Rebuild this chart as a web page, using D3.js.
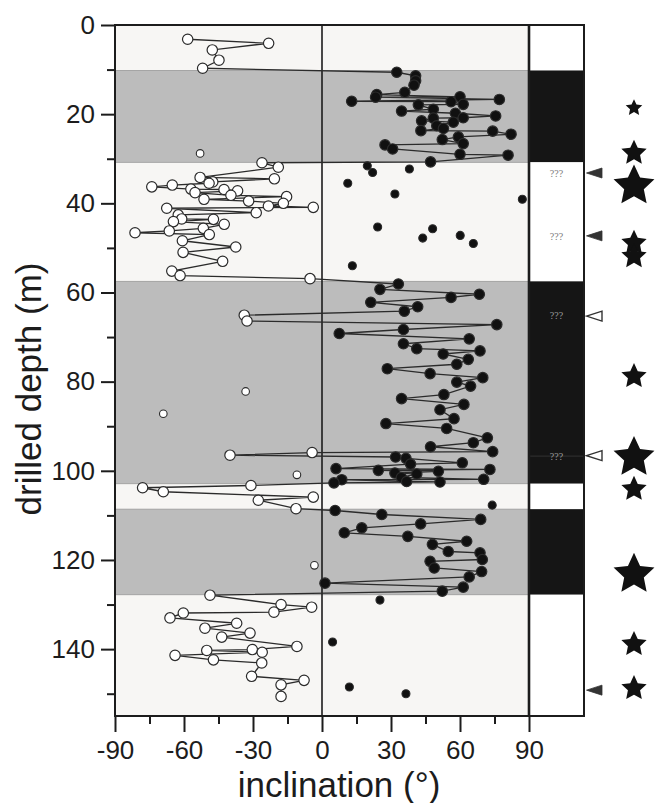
<!DOCTYPE html>
<html>
<head>
<meta charset="utf-8" />
<title>Inclination vs drilled depth</title>
<style>
    body { margin: 0; background: #fff; }
    svg text { font-family: 'Liberation Sans', Arial, sans-serif; fill: #1c1c1c; }
</style>
</head>
<body>
<div id="container"></div>
<script src="https://cdn.jsdelivr.net/npm/d3@7/dist/d3.min.js"></script>
<script>
    // [depth (m), inclination (deg)] - samples joined by the line, in depth order
    const linkedSamples = [
        [3.2, -58.4], [4.1, -23.2], [5.6, -47.7], [7.9, -44.8], [9.7, -51.9],
        [10.6, 32.5], [11.4, 40.7], [12.5, 40.7], [13.5, 40], [15.1, 36], [15.6, 23.8], [16.1, 60], [16.2, 23.3],
        [16.7, 77.1], [17.1, 12.9], [17.2, 56.1], [17.8, 61.4], [17.9, 41.9], [18.9, 48.4], [19.3, 34.6], [19.8, 58],
        [20.4, 75.5], [20.8, 61.4], [20.9, 48.4], [21.5, 43.3], [21.8, 57.1], [22.6, 49.9], [23.2, 52.8], [23.7, 43],
        [23.8, 74.2], [24.5, 82.2], [25.1, 59.3], [25.7, 52.3], [26.6, 61.4], [26.9, 27.4], [27.8, 30.7], [29.0, 60],
        [29.2, 80.9], [30.7, 47.2],
        [30.9, -26.1], [31.9, -19], [34.2, -53], [34.5, -20.7], [35.2, -47.5], [35.5, -49.1], [35.9, -65.1], [36.3, -74],
        [36.8, -57], [36.9, -42.6], [37.2, -36.7], [37.6, -55.2], [38.2, -39.6], [38.5, -15.4], [39.1, -51.3], [39.5, -31.9],
        [40.0, -16.8], [40.6, -23.3], [40.9, -3.8], [41.1, -67.5], [42.1, -28.6], [42.6, -62.5], [43.5, -61], [43.6, -47.2],
        [44.1, -64.6], [44.7, -42.5], [45.6, -51.6], [46.2, -66.4], [46.6, -81.3], [47.0, -49], [48.4, -60.7], [49.8, -37.5],
        [51.0, -60.4], [53.0, -43.2], [55.2, -65.3], [56.2, -61.7], [56.9, -5.2],
        [58.1, 33.2], [59.3, 25.2], [60.4, 68.4], [61.1, 56.1], [62.2, 21.2], [63.2, 41.6], [64.2, 35.8], [65.1, -33.8],
        [66.4, -32.6], [67.2, 76], [68.3, 35.4], [69.2, 7.5], [70.4, 64], [71.5, 35.4], [72.6, 41.2], [73.1, 68.7],
        [73.8, 52.7], [75.0, 63.6], [76.1, 58.6], [77.1, 28.4], [78.2, 47], [79.1, 69.9], [80.1, 58.6], [81.0, 64.6],
        [82.9, 53], [83.8, 34.6], [85.1, 61.7], [86.3, 51.3], [88.3, 57.4], [89.4, 27.8], [90.5, 54.2], [92.6, 71.9],
        [93.7, 65.8], [94.6, 47.2], [95.7, 74.2], [95.9, -4.3], [96.5, -40], [96.9, 32], [97.2, 36.5], [98.2, 61],
        [98.5, 38.5], [99.5, 6.1], [99.7, 73], [99.9, 24.5], [100.1, 50.6], [100.5, 31.7], [100.7, 41.2], [101.5, 34.5],
        [101.9, 70.3], [102.0, 8.6], [102.4, 36.8], [102.5, 51.3], [102.7, 5.2],
        [103.3, -30.9], [103.8, -78], [104.7, -69], [105.9, -3.8], [106.6, -27.7], [108.5, -11.3],
        [108.9, 5.7], [109.8, 26], [110.9, 69], [111.9, 42.9], [112.8, 17.3], [113.9, 9.7], [114.7, 37.3], [115.8, 62.9],
        [116.5, 48], [118.1, 54.9], [118.4, 68.7], [119.9, 69.7], [120.3, 47], [121.8, 48.8], [122.6, 69.4], [123.8, 64],
        [125.2, 1.3], [126.1, 61.4], [127.0, 52.3],
        [127.9, -48.7], [130.0, -17.8], [130.6, -4.5], [131.7, -20.9], [131.9, -60.3], [133.0, -66.1], [134.2, -37.1],
        [135.3, -50.9], [136.4, -31.3], [137.3, -43.6], [139.4, -10.9], [140.1, -30.3], [140.3, -50.1], [140.7, -26],
        [141.4, -63.9], [142.4, -47.2], [143.1, -26.2], [146.1, -30.6], [147.0, -7.8], [148.0, -17.8], [150.6, -17.8]
    ]

    // samples drawn on their own
    const looseSamples = [
        [28.8, -53], [31.6, 19.7], [32.3, 38], [33.1, 22], [35.5, 11.2], [37.9, 31.7], [39.1, 87.1], [45.3, 24.2],
        [45.7, 48.1], [47.2, 60.1], [47.8, 43.8], [49.0, 65.8], [54.0, 13.2], [82.2, -33.2], [87.2, -69],
        [100.9, -10.9], [107.7, 74], [121.2, -3.3], [129.0, 25.2], [138.4, 4.6], [148.5, 11.9], [150.0, 36.5]
    ]

    const grayZones = [[10.2, 30.8], [57.5, 102.9], [108.6, 127.8]]

    // polarity column: [top, bottom, 1 = black]
    const polarity = [[0, 10.2, 0], [10.2, 30.8, 1], [30.8, 57.5, 0], [57.5, 102.9, 1], [102.9, 108.6, 0], [108.6, 127.8, 1], [127.8, 155, 0]]
    const unknownDepths = [33.3, 47.4, 65.2, 96.7]

    // arrows at right of column: [depth, filled?]
    const arrows = [[33.2, true], [47.3, true], [65.3, false], [96.6, false], [149.2, true]]

    // stars: [depth, size class]
    const stars = [[18.6, 1], [28.7, 2], [36.1, 3], [48.9, 2], [51.9, 2], [78.8, 2], [97.0, 3], [104.1, 2], [123.2, 3], [138.9, 2], [148.8, 2]]

    const xTicks = [-90, -60, -30, 0, 30, 60, 90]
    const xMinor = [-75, -45, -15, 15, 45, 75]
    const yTicks = [0, 20, 40, 60, 80, 100, 120, 140]
    const yMinor = [10, 30, 50, 70, 90, 110, 130, 150]

    const width = 655
    const height = 803

    let svg = d3.select('#container').append('svg').attr('width', width).attr('height', height)

    let x = d3.scaleLinear().domain([-90, 90]).range([115, 529])
    let y = d3.scaleLinear().domain([0, 155]).range([25, 716])
    const colLeft = x(90)
    const colRight = colLeft + 55

    // background bands
    svg.append('rect').attr('x', x(-90)).attr('y', y(0)).attr('width', colLeft - x(-90)).attr('height', y(155) - y(0)).attr('fill', '#f7f6f4')
    svg.selectAll('.zone').data(grayZones).enter().append('rect')
        .attr('x', x(-90)).attr('width', colLeft - x(-90))
        .attr('y', d => y(d[0])).attr('height', d => y(d[1]) - y(d[0]))
        .attr('fill', '#bcbcbc').attr('stroke', '#9a9a9a').attr('stroke-width', 0.8)

    // polarity column
    svg.selectAll('.pol').data(polarity).enter().append('rect')
        .attr('x', colLeft).attr('width', colRight - colLeft)
        .attr('y', d => y(d[0])).attr('height', d => y(d[1]) - y(d[0]))
        .attr('fill', d => d[2] ? '#151515' : '#ffffff')
    svg.append('line').attr('x1', colLeft).attr('x2', colRight).attr('y1', y(96.7)).attr('y2', y(96.7)).attr('stroke', '#3a3a3a').attr('stroke-width', 0.8)
    svg.selectAll('.unk').data(unknownDepths).enter().append('text')
        .attr('x', (colLeft + colRight) / 2).attr('y', d => y(d) + 3.5)
        .attr('text-anchor', 'middle').style('font-family', "'Liberation Serif', serif").style('font-size', '10px')
        .style('fill', d => polarity.find(p => d >= p[0] && d < p[1])[2] ? '#9a9a9a' : '#7a7a7a')
        .text('???')

    // zero line
    svg.append('line').attr('x1', x(0)).attr('x2', x(0)).attr('y1', y(0)).attr('y2', y(155)).attr('stroke', '#1c1c1c').attr('stroke-width', 1.6)

    // data
    let line = d3.line().x(d => x(d[1])).y(d => y(d[0]))
    svg.append('path').datum(linkedSamples).attr('d', line).attr('fill', 'none').attr('stroke', '#2b2b2b').attr('stroke-width', 1.3)
    svg.selectAll('.pt').data(linkedSamples).enter().append('circle')
        .attr('cx', d => x(d[1])).attr('cy', d => y(d[0])).attr('r', 5.2)
        .attr('fill', d => d[1] < 0 ? '#ffffff' : '#111111').attr('stroke', '#2b2b2b').attr('stroke-width', 1.2)
    svg.selectAll('.lp').data(looseSamples).enter().append('circle')
        .attr('cx', d => x(d[1])).attr('cy', d => y(d[0])).attr('r', d => d[1] < 0 ? 3.8 : 4)
        .attr('fill', d => d[1] < 0 ? '#ffffff' : '#111111').attr('stroke', '#2b2b2b').attr('stroke-width', 1.1)

    // frame
    let frame = svg.append('g').attr('fill', 'none').attr('stroke', '#1c1c1c')
    frame.append('rect').attr('x', x(-90)).attr('y', y(0)).attr('width', colRight - x(-90)).attr('height', y(155) - y(0)).attr('stroke-width', 2)
    frame.append('line').attr('x1', colLeft).attr('x2', colLeft).attr('y1', y(0)).attr('y2', y(155)).attr('stroke-width', 2.6)

    // axes
    let yAxis = svg.append('g').attr('transform', `translate(${x(-90)},0)`)
        .call(d3.axisLeft(y).tickValues(yTicks).tickSize(14).tickPadding(6).tickFormat(d => String(d)))
    let yAxisMinor = svg.append('g').attr('transform', `translate(${x(-90)},0)`)
        .call(d3.axisLeft(y).tickValues(yMinor).tickSize(8).tickFormat(''))
    let xAxis = svg.append('g').attr('transform', `translate(0,${y(155)})`)
        .call(d3.axisBottom(x).tickValues(xTicks).tickSize(16).tickPadding(9).tickFormat(d => String(d)))
    let xAxisMinor = svg.append('g').attr('transform', `translate(0,${y(155)})`)
        .call(d3.axisBottom(x).tickValues(xMinor).tickSize(8).tickFormat(''))
    svg.selectAll('.domain').remove()
    svg.selectAll('.tick line').attr('stroke', '#1c1c1c').attr('stroke-width', 2)
    svg.selectAll('.tick text').style('font-size', '26px').style('font-family', "'Liberation Sans', Arial, sans-serif").attr('fill', '#1c1c1c')

    svg.append('text').attr('x', 339).attr('y', 797).attr('text-anchor', 'middle').style('font-size', '35px').text('inclination (°)')
    svg.append('text').attr('transform', 'translate(41,389) rotate(-90)').attr('text-anchor', 'middle').style('font-size', '35px').text('drilled depth (m)')

    // arrows
    svg.selectAll('.arrow').data(arrows).enter().append('path')
        .attr('d', d => `M${colRight + 2.5},${y(d[0])} L${colRight + 18},${y(d[0]) - 5} L${colRight + 18},${y(d[0]) + 5} Z`)
        .attr('fill', d => d[1] ? '#333333' : '#ffffff').attr('stroke', '#333333').attr('stroke-width', d => d[1] ? 0.8 : 1.4)

    // stars, a bit plumper than d3.symbolStar
    let starRadius = {1: 8.7, 2: 13.3, 3: 21.5}
    let starShape = d3.lineRadial().curve(d3.curveLinearClosed)
    function starPath(r) {
        let pts = d3.range(10).map(i => [i * Math.PI / 5, i % 2 ? r * 0.48 : r])
        return starShape(pts)
    }
    svg.selectAll('.star').data(stars).enter().append('path')
        .attr('transform', d => `translate(634,${y(d[0])})`)
        .attr('d', d => starPath(starRadius[d[1]]))
        .attr('fill', '#111111')
</script>
</body>
</html>
